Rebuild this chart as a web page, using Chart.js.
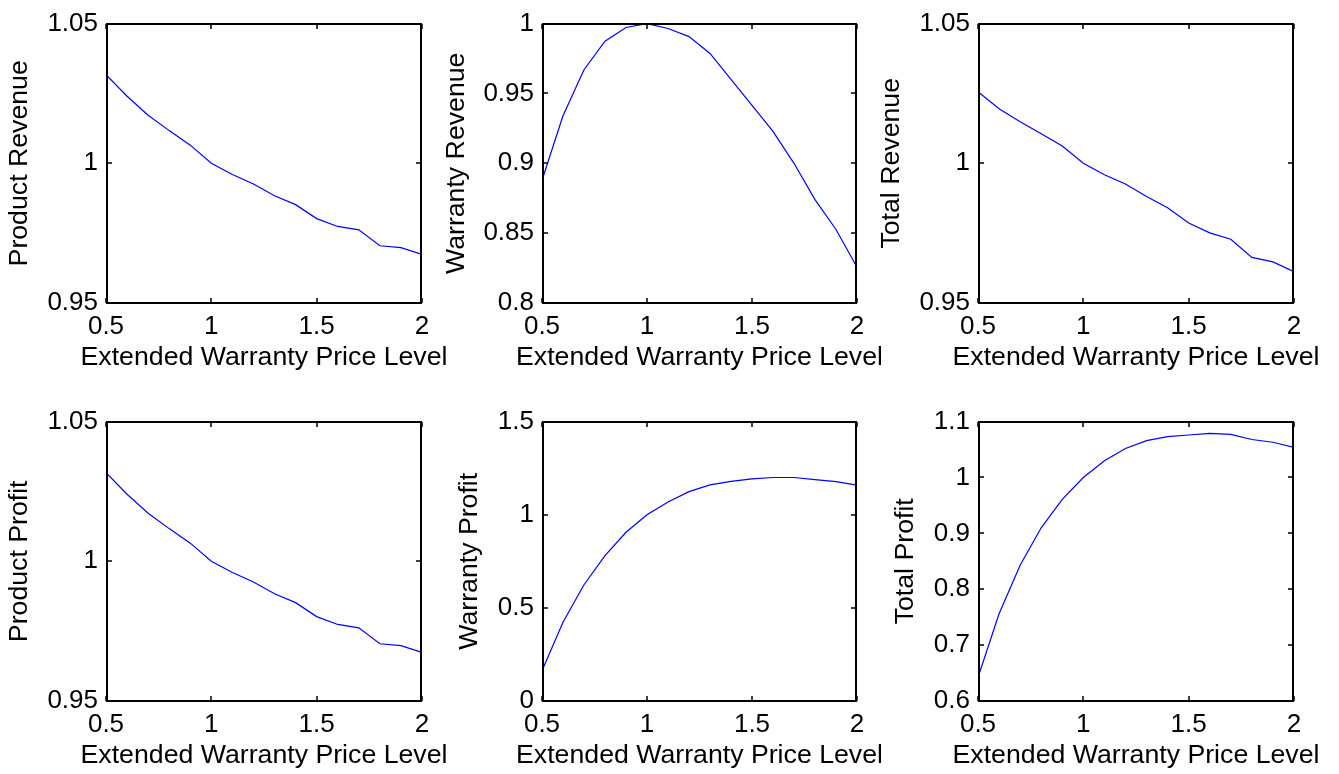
<!DOCTYPE html>
<html><head><meta charset="utf-8">
<script src="https://cdn.jsdelivr.net/npm/chart.js@4/dist/chart.umd.min.js"></script>
<style>
html,body{margin:0;padding:0;background:#fff;width:1339px;height:774px;overflow:hidden;}
body{position:relative;}
canvas{position:absolute;}
</style></head><body>
<canvas id="c1"></canvas><canvas id="c2"></canvas><canvas id="c3"></canvas>
<canvas id="c4"></canvas><canvas id="c5"></canvas><canvas id="c6"></canvas>
<script>
// ---- data ----
const priceLevels = [0.5, 0.6, 0.7, 0.8, 0.9, 1.0, 1.1, 1.2, 1.3, 1.4, 1.5, 1.6, 1.7, 1.8, 1.9, 2.0];
const xTicks = [0.5, 1, 1.5, 2];
const xAxisTitle = 'Extended Warranty Price Level';

const productRevenue = [1.0317, 1.0240, 1.0172, 1.0117, 1.0065, 1.0000, 0.9960, 0.9926, 0.9884, 0.9852, 0.9802, 0.9774, 0.9762, 0.9705, 0.9698, 0.9674];
const warrantyRevenue = [0.8879, 0.9340, 0.9670, 0.9874, 0.9972, 1.0000, 0.9965, 0.9907, 0.9786, 0.9600, 0.9414, 0.9228, 0.9000, 0.8740, 0.8526, 0.8256];
const totalRevenue = [1.0256, 1.0195, 1.0149, 1.0106, 1.0062, 1.0000, 0.9959, 0.9926, 0.9881, 0.9841, 0.9786, 0.9751, 0.9728, 0.9663, 0.9647, 0.9612];
const productProfit = [1.0317, 1.0240, 1.0172, 1.0117, 1.0065, 1.0000, 0.9960, 0.9926, 0.9884, 0.9852, 0.9802, 0.9774, 0.9762, 0.9705, 0.9698, 0.9674];
const warrantyProfit = [0.162, 0.423, 0.624, 0.780, 0.906, 1.000, 1.068, 1.124, 1.160, 1.179, 1.192, 1.200, 1.200, 1.188, 1.178, 1.159];
const totalProfit = [0.642, 0.756, 0.843, 0.910, 0.961, 1.000, 1.030, 1.052, 1.066, 1.073, 1.076, 1.079, 1.077, 1.068, 1.063, 1.054];

const yTicksProductRevenue = [0.95, 1, 1.05];
const yTicksWarrantyRevenue = [0.8, 0.85, 0.9, 0.95, 1];
const yTicksTotalRevenue = [0.95, 1, 1.05];
const yTicksProductProfit = [0.95, 1, 1.05];
const yTicksWarrantyProfit = [0, 0.5, 1, 1.5];
const yTicksTotalProfit = [0.6, 0.7, 0.8, 0.9, 1, 1.1];

const yTitles = ['Product Revenue', 'Warranty Revenue', 'Total Revenue', 'Product Profit', 'Warranty Profit', 'Total Profit'];

// ---- layout ----
const FONT_FAMILY = '"Liberation Sans", Arial, Helvetica, sans-serif';
const FONT_SIZE = 26;
const TITLE_SIZE = 26.7;
const LH = TITLE_SIZE * 1.2;
const Y_AXIS_W = 106, TOP_PAD = 16, X_AXIS_H = 72, RIGHT_PAD = 24, TICK_LEN = 5;

const panels = [
  {id:'c1', values:productRevenue, yTicks:yTicksProductRevenue, title:yTitles[0], plotLeft:106, plotTop:16, plotW:316, plotH:287, titleX:20},
  {id:'c2', values:warrantyRevenue, yTicks:yTicksWarrantyRevenue, title:yTitles[1], plotLeft:542, plotTop:16, plotW:315, plotH:287, titleX:457},
  {id:'c3', values:totalRevenue, yTicks:yTicksTotalRevenue, title:yTitles[2], plotLeft:978, plotTop:16, plotW:316, plotH:287, titleX:891.5},
  {id:'c4', values:productProfit, yTicks:yTicksProductProfit, title:yTitles[3], plotLeft:106, plotTop:414, plotW:316, plotH:287, titleX:19.5},
  {id:'c5', values:warrantyProfit, yTicks:yTicksWarrantyProfit, title:yTitles[4], plotLeft:542, plotTop:414, plotW:315, plotH:287, titleX:470},
  {id:'c6', values:totalProfit, yTicks:yTicksTotalProfit, title:yTitles[5], plotLeft:978, plotTop:414, plotW:316, plotH:287, titleX:906}
];

Chart.defaults.font.family = FONT_FAMILY;
Chart.defaults.font.size = FONT_SIZE;
Chart.defaults.color = '#000';

function fmt(v) { return String(+Number(v).toFixed(4)); }

const framePlugin = {
  id: 'frame',
  afterDraw(chart) {
    const {ctx, chartArea: a, scales: {x, y}} = chart;
    ctx.save();
    ctx.strokeStyle = '#000';
    const L = Math.round(a.left) + 1, R = Math.round(a.right) - 1, T = Math.round(a.top), B = Math.round(a.bottom);
    ctx.lineWidth = 2;
    ctx.strokeRect(L, T, R - L, B - T);
    ctx.lineWidth = 1.5;
    ctx.beginPath();
    x.ticks.forEach(t => {
      const px = Math.round(x.getPixelForValue(t.value));
      ctx.moveTo(px, B); ctx.lineTo(px, B - TICK_LEN);
      ctx.moveTo(px, T); ctx.lineTo(px, T + TICK_LEN);
    });
    y.ticks.forEach(t => {
      const py = Math.round(y.getPixelForValue(t.value));
      ctx.moveTo(L, py); ctx.lineTo(L + TICK_LEN, py);
      ctx.moveTo(R, py); ctx.lineTo(R - TICK_LEN, py);
    });
    ctx.stroke();
    ctx.fillStyle = '#000';
    ctx.font = TITLE_SIZE + 'px ' + FONT_FAMILY;
    ctx.textAlign = 'center';
    ctx.textBaseline = 'middle';
    ctx.fillText(xAxisTitle, (a.left + a.right) / 2, a.bottom + 55);
    ctx.restore();
  }
};

function makePanel(p) {
  const cv = document.getElementById(p.id);
  const left = p.plotLeft - Y_AXIS_W, top = p.plotTop - TOP_PAD;
  const W = Y_AXIS_W + p.plotW + RIGHT_PAD, H = TOP_PAD + p.plotH + X_AXIS_H;
  cv.width = W; cv.height = H;
  cv.style.left = left + 'px'; cv.style.top = top + 'px';
  cv.style.width = W + 'px'; cv.style.height = H + 'px';
  const yMin = p.yTicks[0], yMax = p.yTicks[p.yTicks.length - 1];
  new Chart(cv, {
    type: 'line',
    data: {
      datasets: [{
        data: priceLevels.map((xv, i) => ({x: xv, y: p.values[i]})),
        borderColor: '#0000ff', borderWidth: 1.2, pointRadius: 0, tension: 0, fill: false
      }]
    },
    options: {
      responsive: false, animation: false, events: [],
      layout: {padding: {top: TOP_PAD, right: RIGHT_PAD, left: 0, bottom: 0}},
      plugins: {legend: {display: false}, tooltip: {enabled: false}},
      scales: {
        x: {
          type: 'linear', min: xTicks[0], max: xTicks[xTicks.length - 1],
          grid: {display: false, drawTicks: false}, border: {display: false},
          afterBuildTicks: s => { s.ticks = xTicks.map(v => ({value: v})); },
          afterFit: s => { s.height = X_AXIS_H; },
          ticks: {padding: 8, maxRotation: 0, autoSkip: false, callback: v => fmt(v)}
        },
        y: {
          type: 'linear', min: yMin, max: yMax,
          grid: {display: false, drawTicks: false}, border: {display: false},
          afterBuildTicks: s => { s.ticks = p.yTicks.map(v => ({value: v})); },
          afterFit: s => { s.width = Y_AXIS_W; },
          ticks: {padding: 8, autoSkip: false, callback: v => fmt(v)},
          title: {display: true, text: p.title, font: {size: TITLE_SIZE}, padding: {top: p.titleX - left - LH / 2, bottom: 0}}
        }
      }
    },
    plugins: [framePlugin]
  });
}

panels.forEach(makePanel);
</script>
</body></html>
